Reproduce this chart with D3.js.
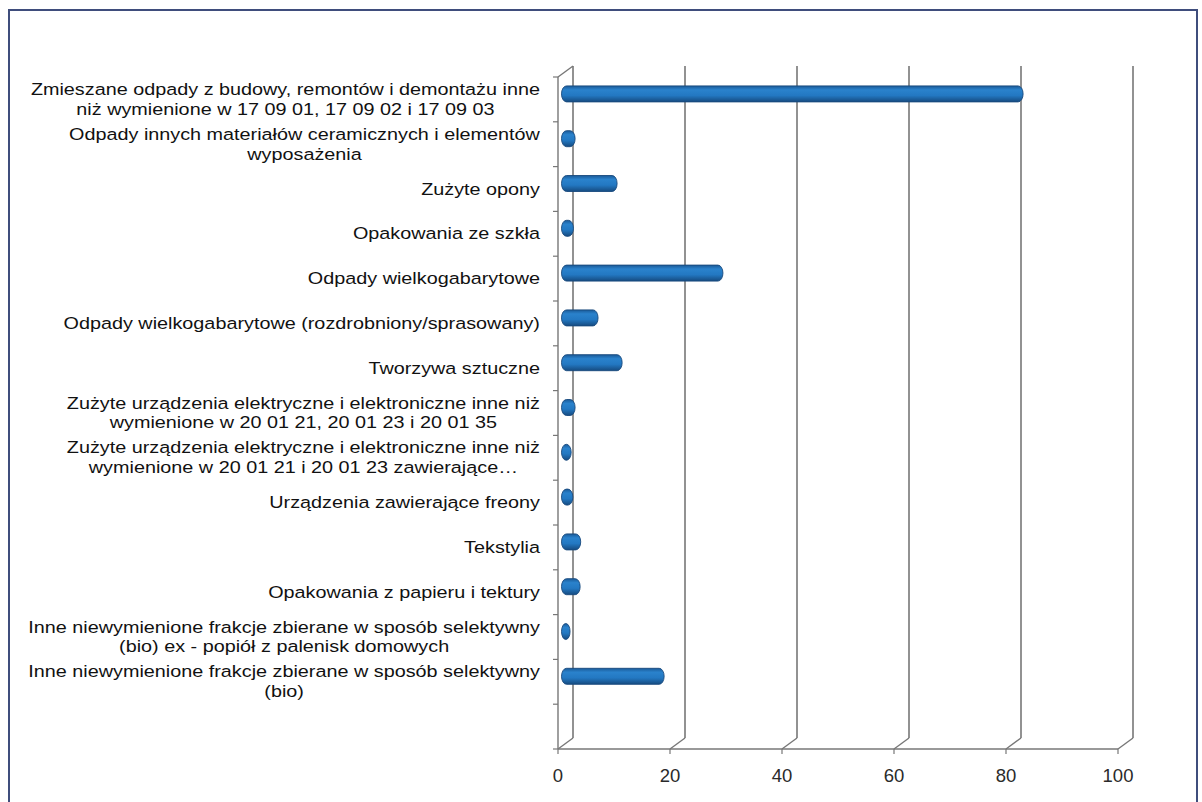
<!DOCTYPE html>
<html>
<head>
<meta charset="utf-8">
<script src="https://cdnjs.cloudflare.com/ajax/libs/d3/7.8.5/d3.min.js"></script>
<style>
  html, body { margin: 0; padding: 0; background: #fff; }
  svg { display: block; }
</style>
</head>
<body>
<svg id="chart" width="1202" height="802"></svg>
<script>
// Category labels (line breaks as wrapped in the original).
var CATEGORIES = [
  'Zmieszane odpady z budowy, remontów i demontażu inne\nniż wymienione w 17 09 01, 17 09 02 i 17 09 03',
  'Odpady innych materiałów ceramicznych i elementów\nwyposażenia',
  'Zużyte opony',
  'Opakowania ze szkła',
  'Odpady wielkogabarytowe',
  'Odpady wielkogabarytowe (rozdrobniony/sprasowany)',
  'Tworzywa sztuczne',
  'Zużyte urządzenia elektryczne i elektroniczne inne niż\nwymienione w 20 01 21, 20 01 23 i 20 01 35',
  'Zużyte urządzenia elektryczne i elektroniczne inne niż\nwymienione w 20 01 21 i 20 01 23 zawierające…',
  'Urządzenia zawierające freony',
  'Tekstylia',
  'Opakowania z papieru i tektury',
  'Inne niewymienione frakcje zbierane w sposób selektywny\n(bio) ex - popiół z palenisk domowych',
  'Inne niewymienione frakcje zbierane w sposób selektywny\n(bio)',
  ''
];

// Values (empty last row has no bar).
var VALUES = [81, 1.0, 8.5, 0.7, 27.4, 5.1, 9.4, 1.0, 0.3, 0.6, 2.0, 1.9, 0.1, 16.9, null];

var X_TICKS = [0, 20, 40, 60, 80, 100];


var svg = d3.select('#chart');

// 3D depth offset of the back wall.
var DX = 15, DY = -11;

var x = d3.scaleLinear().domain([0, 100]).range([558, 1118]);
var y = d3.scaleBand().domain(d3.range(CATEGORIES.length)).range([77, 749]);
var yTop = y.range()[0], yBot = y.range()[1];

var axisColor = '#777';

// outer frame
svg.append('rect')
  .attr('x', 9).attr('y', 10)
  .attr('width', 1188).attr('height', 800)
  .attr('fill', 'none')
  .attr('stroke', '#3f4d7c')
  .attr('stroke-width', 2);

// gradient for the cylinder bars
var grad = svg.append('defs').append('linearGradient')
  .attr('id', 'cyl').attr('x1', 0).attr('y1', 0).attr('x2', 0).attr('y2', 1);
grad.append('stop').attr('offset', '0%').attr('stop-color', '#1a5a98');
grad.append('stop').attr('offset', '25%').attr('stop-color', '#2a82cc');
grad.append('stop').attr('offset', '60%').attr('stop-color', '#2378c2');
grad.append('stop').attr('offset', '100%').attr('stop-color', '#164b80');

// back wall gridlines
svg.append('g').selectAll('line').data(X_TICKS)
  .enter().append('line')
  .attr('x1', function(t) { return x(t) + DX; })
  .attr('x2', function(t) { return x(t) + DX; })
  .attr('y1', yTop + DY)
  .attr('y2', yBot + DY)
  .attr('stroke', axisColor)
  .attr('stroke-width', 1.6);

// floor diagonals
svg.append('g').selectAll('line').data(X_TICKS)
  .enter().append('line')
  .attr('x1', function(t) { return x(t); })
  .attr('y1', yBot)
  .attr('x2', function(t) { return x(t) + DX; })
  .attr('y2', yBot + DY)
  .attr('stroke', axisColor)
  .attr('stroke-width', 1.4);

// left wall: front vertical axis + top diagonal
svg.append('line')
  .attr('x1', x(0)).attr('x2', x(0))
  .attr('y1', yTop).attr('y2', yBot)
  .attr('stroke', axisColor).attr('stroke-width', 1.4);
svg.append('line')
  .attr('x1', x(0)).attr('y1', yTop)
  .attr('x2', x(0) + DX).attr('y2', yTop + DY)
  .attr('stroke', axisColor).attr('stroke-width', 1.4);

// category tick marks
var boundaries = y.domain().map(function(i) { return y(i); }).concat([yBot]);
svg.append('g').selectAll('line').data(boundaries)
  .enter().append('line')
  .attr('x1', x(0) - 5).attr('x2', x(0))
  .attr('y1', function(d) { return d; })
  .attr('y2', function(d) { return d; })
  .attr('stroke', axisColor).attr('stroke-width', 1.2);

// bottom value axis
svg.append('line')
  .attr('x1', x(0)).attr('x2', x(100))
  .attr('y1', yBot).attr('y2', yBot)
  .attr('stroke', axisColor).attr('stroke-width', 1.6);
svg.append('g').selectAll('line').data(X_TICKS)
  .enter().append('line')
  .attr('x1', function(t) { return x(t); })
  .attr('x2', function(t) { return x(t); })
  .attr('y1', yBot).attr('y2', yBot + 5)
  .attr('stroke', axisColor).attr('stroke-width', 1.2);
svg.append('g').selectAll('text').data(X_TICKS)
  .enter().append('text')
  .attr('x', function(t) { return x(t); })
  .attr('y', yBot + 33)
  .attr('text-anchor', 'middle')
  .attr('font-family', 'Liberation Sans, Arial, sans-serif')
  .attr('font-size', 18.5)
  .attr('fill', '#2a2a2a')
  .text(function(t) { return t; });

// cylinder bars, drawn in the middle of the depth
var BAR_H = 16;
var bars = VALUES.map(function(v, i) { return {v: v, i: i}; })
  .filter(function(d) { return d.v != null; });

svg.append('g').selectAll('rect').data(bars)
  .enter().append('rect')
  .attr('x', x(0) + DX / 2 - 4)
  .attr('y', function(d) { return y(d.i) + y.bandwidth() / 2 + DY / 2 - BAR_H / 2; })
  .attr('width', function(d) { return x(d.v) - x(0) + 8; })
  .attr('height', BAR_H)
  .attr('rx', 5).attr('ry', 8)
  .attr('fill', 'url(#cyl)')
  .attr('stroke', '#184a7e')
  .attr('stroke-width', 0.9);

// category labels: block right-aligned, lines centred within the block
var STRETCH = 1.2;
var LABEL_RIGHT = 540;
var labels = svg.append('g')
  .attr('font-family', 'Liberation Sans, Arial, sans-serif')
  .attr('font-size', 16.5)
  .attr('fill', '#111');

CATEGORIES.forEach(function(cat, i) {
  if (!cat) return;
  var lines = cat.split('\n');
  var g = labels.append('g');
  var texts = g.selectAll('text').data(lines)
    .enter().append('text')
    .attr('text-anchor', 'middle')
    .attr('y', function(l, k) { return (k - (lines.length - 1) / 2) * 20 + 5.5; })
    .text(function(l) { return l; });
  var w = 0;
  texts.each(function() { w = Math.max(w, this.getComputedTextLength()); });
  texts.attr('x', -w / 2);
  g.attr('transform', 'translate(' + LABEL_RIGHT + ',' + (y(i) + y.bandwidth() / 2) + ') scale(' + STRETCH + ',1)');
});
</script>
</body>
</html>
